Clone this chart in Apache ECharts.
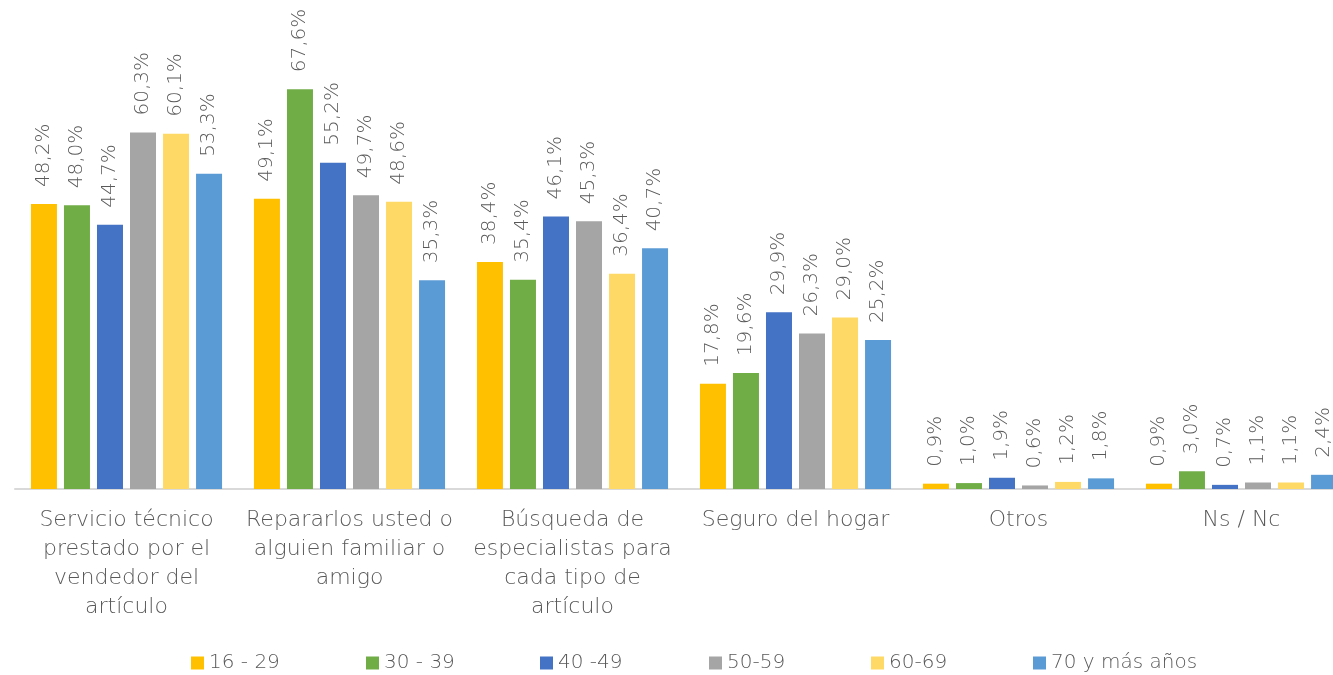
<!DOCTYPE html>
<html>
<head>
<meta charset="utf-8">
<script src="https://cdn.jsdelivr.net/npm/echarts@6/dist/echarts.min.js"></script>
<style>
  html, body { margin: 0; padding: 0; background: #fff; overflow: hidden; }
  #main { width: 1353px; height: 675px; }
</style>
</head>
<body>
<div id="main"></div>
<script>
// categorías del eje X
var categorias = [
    'Servicio técnico\nprestado por el\nvendedor del\nartículo',
    'Repararlos usted o\nalguien familiar o\namigo',
    'Búsqueda de\nespecialistas para\ncada tipo de\nartículo',
    'Seguro del hogar',
    'Otros',
    'Ns / Nc'
];
var grupos = ['16 - 29', '30 - 39', '40 -49', '50-59', '60-69', '70 y más años'];
var colores = ['#FFC000', '#70AD47', '#4472C4', '#A5A5A5', '#FFD966', '#5B9BD5'];

var edad16_29 = [48.2, 49.1, 38.4, 17.8, 0.9, 0.9];
var edad30_39 = [48.0, 67.6, 35.4, 19.6, 1.0, 3.0];
var edad40_49 = [44.7, 55.2, 46.1, 29.9, 1.9, 0.7];
var edad50_59 = [60.3, 49.7, 45.3, 26.3, 0.6, 1.1];
var edad60_69 = [60.1, 48.6, 36.4, 29.0, 1.2, 1.1];
var edad70mas = [53.3, 35.3, 40.7, 25.2, 1.8, 2.4];
var valores = [edad16_29, edad30_39, edad40_49, edad50_59, edad60_69, edad70mas];

// posiciones de la leyenda (cada grupo por separado)
var leyendaX = [186, 361, 535, 704, 866, 1028];

var fuente = '"DejaVu Sans", sans-serif';
var peso = 200;
var gris = '#595959';

// el gráfico original se sale por la derecha, por eso el div es más ancho que la ventana
var myChart = echarts.init(document.getElementById('main'));

var series = [];
var legends = [];
for (var i = 0; i < grupos.length; i++) {
    series.push({
        name: grupos[i],
        type: 'bar',
        barWidth: 26,
        barGap: '27%',
        itemStyle: { color: colores[i] },
        label: {
            show: true,
            position: 'top',
            rotate: 90,
            align: 'left',
            verticalAlign: 'middle',
            distance: 17,
            color: gris,
            fontFamily: fuente,
            fontWeight: peso,
            fontSize: 20,
            formatter: function (p) {
                return p.value.toFixed(1).replace('.', ',') + '%';
            }
        },
        data: valores[i]
    });
    legends.push({
        data: [grupos[i]],
        left: leyendaX[i],
        top: 648,
        icon: 'rect',
        itemWidth: 13,
        itemHeight: 13,
        itemGap: 8,
        textStyle: { color: gris, fontFamily: fuente, fontWeight: peso, fontSize: 20 }
    });
}

var option = {
    animation: false,
    legend: legends,
    grid: {
        left: 15,
        right: 0,
        top: 16,
        bottom: 186,
        containLabel: false
    },
    xAxis: {
        type: 'category',
        data: categorias,
        axisLine: { lineStyle: { color: '#D9D9D9', width: 2 } },
        axisTick: { show: false },
        axisLabel: {
            interval: 0,
            margin: 17,
            color: gris,
            fontFamily: fuente,
            fontWeight: peso,
            fontSize: 22,
            lineHeight: 29
        }
    },
    yAxis: {
        type: 'value',
        min: 0,
        max: 80,
        show: false,
        splitLine: { show: false }
    },
    series: series
};
myChart.setOption(option);
</script>
</body>
</html>
